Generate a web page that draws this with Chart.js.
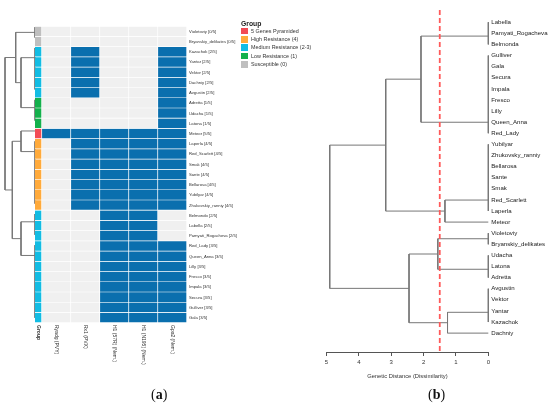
<!DOCTYPE html>
<html>
<head>
<meta charset="utf-8">
<script src="https://cdn.jsdelivr.net/npm/chart.js@4"></script>
<style>
  body { margin: 0; background: #fff; width: 550px; height: 408px; position: relative; overflow: hidden;
         font-family: "Liberation Sans", Arial, sans-serif; }
  canvas { position: absolute; }
  .lg { position: absolute; font-size: 5.4px; color: #333; white-space: nowrap; line-height: 7px; }
  .sw { position: absolute; width: 6.7px; height: 6.7px; }
  .cap { position: absolute; font-family: "Liberation Serif", "DejaVu Serif", serif; font-size: 14px; color: #111; }
</style>
</head>
<body>
<canvas id="leftTree" width="36" height="301" style="left:0;top:22px"></canvas>
<canvas id="heat" width="222" height="361" style="left:35px;top:22px"></canvas>
<canvas id="rightTree" width="230" height="408" style="left:320px;top:0"></canvas>
<div id="legend"></div>
<div class="cap" style="left:151px;top:387px">(<b>a</b>)</div>
<div class="cap" style="left:428px;top:387px">(<b>b</b>)</div>
<script>
// ─── DATA ─────────────────────────────────────────────────────────────────────

const rowNames = [
  'Violetoviy', 'Bryanskiy_delikates', 'Kazachok', 'Yantar', 'Vektor', 'Dachniy', 'Avgustin',
  'Adretta', 'Udacha', 'Latona', 'Meteor', 'Laperla', 'Red_Scarlett', 'Smak', 'Sante',
  'Bellarosa', 'Yubilyar', 'Zhukovskiy_ranniy', 'Belmondo', 'Labella', 'Pamyati_Rogacheva',
  'Red_Lady', 'Queen_Anna', 'Lilly', 'Fresco', 'Impala', 'Secura', 'Gulliver', 'Gala'
];
const markerLabels = ['Ryadg (PVY)', 'Rx1 (PVX)', 'H1 (57R) (Nem.)', 'H1 (N195) (Nem.)', 'Gpa2 (Nem.)'];

const ryadg = [0,0,0,0,0,0,0,0,0,0,1,0,0,0,0,0,0,0,0,0,0,0,0,0,0,0,0,0,0];
const rx1   = [0,0,1,1,1,1,1,0,0,0,1,1,1,1,1,1,1,1,0,0,0,0,0,0,0,0,0,0,0];
const h1a   = [0,0,0,0,0,0,0,0,0,0,1,1,1,1,1,1,1,1,1,1,1,1,1,1,1,1,1,1,1];
const h1b   = [0,0,0,0,0,0,0,0,0,0,1,1,1,1,1,1,1,1,1,1,1,1,1,1,1,1,1,1,1];
const gpa2  = [0,0,1,1,1,1,1,1,1,1,1,1,1,1,1,1,1,1,0,0,0,1,1,1,1,1,1,1,1];

const groupNames  = ['5 Genes Pyramided', 'High Resistance (4)', 'Medium Resistance (2-3)', 'Low Resistance (1)', 'Susceptible (0)'];
const groupColors = ['#F24B55', '#FFAA3B', '#12BCE3', '#14B04C', '#BFBFBF'];

// row dendrogram of panel (a): [children, height]; numbers point at earlier merges
const leftMerges = [
  [['Violetoviy', 'Bryanskiy_delikates'], 0],
  [['Avgustin', 'Dachniy', 'Vektor', 'Yantar', 'Kazachok'], 0],
  [['Udacha', 'Latona', 'Adretta'], 0],
  [[1, 2], 1.4],
  [[0, 3], 1.93],
  [['Zhukovskiy_ranniy', 'Yubilyar', 'Bellarosa', 'Sante', 'Smak', 'Red_Scarlett', 'Laperla'], 0],
  [['Meteor', 5], 1.4],
  [['Pamyati_Rogacheva', 'Labella', 'Belmondo'], 0],
  [['Gala', 'Gulliver', 'Secura', 'Impala', 'Fresco', 'Lilly', 'Queen_Anna', 'Red_Lady'], 0],
  [[7, 8], 1.4],
  [[6, 9], 2.27],
  [[4, 10], 3.0],
];

// dendrogram of panel (b)
const rightLeaves = [
  'Labella', 'Pamyati_Rogacheva', 'Belmonda', 'Gulliver', 'Gala', 'Secura', 'Impala', 'Fresco',
  'Lilly', 'Queen_Anna', 'Red_Lady', 'Yubilyar', 'Zhukovsky_ranniy', 'Bellarosa', 'Sante', 'Smak',
  'Red_Scarlett', 'Laperla', 'Meteor', 'Violetoviy', 'Bryanskiy_delikates', 'Udacha', 'Latona',
  'Adretta', 'Avgustin', 'Vektor', 'Yantar', 'Kazachok', 'Dachniy'
];
const rightMerges = [
  [['Labella', 'Pamyati_Rogacheva', 'Belmonda'], 0],
  [['Gulliver', 'Gala', 'Secura', 'Impala', 'Fresco', 'Lilly', 'Queen_Anna', 'Red_Lady'], 0],
  [[0, 1], 2.08],
  [['Yubilyar', 'Zhukovsky_ranniy', 'Bellarosa', 'Sante', 'Smak', 'Red_Scarlett', 'Laperla'], 0],
  [[3, 'Meteor'], 1.34],
  [[2, 4], 3.17],
  [['Violetoviy', 'Bryanskiy_delikates'], 0],
  [['Udacha', 'Latona', 'Adretta'], 0],
  [[6, 7], 1.56],
  [['Avgustin', 'Vektor', 'Yantar', 'Kazachok'], 0],
  [[9, 'Dachniy'], 1.26],
  [[8, 10], 2.45],
  [[5, 11], 4.9],
];
const cutHeight = 1.5;
const distTicks = [0, 1, 2, 3, 4, 5];

// ─── HELPERS ──────────────────────────────────────────────────────────────────

const FONT = '"Liberation Sans", Arial, sans-serif';
Chart.defaults.font.family = FONT;
Chart.defaults.animation = false;

const TREE_COLOR = '#777777';
const BLUE  = '#0A6FAE';
const EMPTY = '#F0F0F0';
const groupWidth = 0.24;

const markerSeries = [ryadg, rx1, h1a, h1b, gpa2];
const counts = rowNames.map((_, i) => markerSeries.reduce((s, a) => s + a[i], 0));

function groupOf(n) {
  if (n === 5) return 0;
  if (n === 4) return 1;
  if (n >= 2) return 2;
  if (n === 1) return 3;
  return 4;
}

// turn merge list into line segments (x = height, y = leaf index)
function treeSegments(leaves, merges) {
  const nodes = [];
  const segs = [];
  const pos = c => typeof c === 'string' ? { y: leaves.indexOf(c), h: 0 } : nodes[c];
  for (const [kids, h] of merges) {
    const ps = kids.map(pos);
    let y = ps[0].y;
    for (let i = 1; i < ps.length; i++) y = (y + ps[i].y) / 2;
    const ys = ps.map(p => p.y);
    segs.push([{ x: h, y: Math.min(...ys) }, { x: h, y: Math.max(...ys) }]);
    for (const p of ps) {
      if (p.h !== h) segs.push([{ x: p.h, y: p.y }, { x: h, y: p.y }]);
    }
    nodes.push({ y, h });
  }
  return segs;
}

function segDatasets(segs) {
  return segs.map(s => ({
    data: s, showLine: true, borderColor: TREE_COLOR, borderWidth: 1,
    pointRadius: 0, clip: false,
  }));
}

const quiet = { legend: { display: false }, tooltip: { enabled: false } };

// ─── PANEL (a): ROW DENDROGRAM ────────────────────────────────────────────────

new Chart(document.getElementById('leftTree'), {
  type: 'scatter',
  data: { datasets: segDatasets(treeSegments(rowNames, leftMerges)) },
  options: {
    responsive: false,
    layout: { padding: { right: 1 } },
    plugins: quiet,
    scales: {
      x: { type: 'linear', reverse: true, min: 0, max: 3.5, display: false },
      y: { type: 'linear', reverse: true, min: -0.5, max: 28.5, display: false },
    }
  }
});

// ─── PANEL (a): HEATMAP ───────────────────────────────────────────────────────

const colLabelPlugin = {
  id: 'colLabels',
  afterDraw(chart) {
    const { ctx, chartArea } = chart;
    const xs = chart.scales.x;
    ctx.save();
    ctx.fillStyle = '#333';
    ctx.textBaseline = 'middle';
    ctx.textAlign = 'left';
    ['Group', ...markerLabels].forEach((t, i) => {
      const v = i === 0 ? groupWidth / 2 : groupWidth + i - 0.5;
      ctx.font = (i === 0 ? 'bold ' : '') + '5px ' + FONT;
      ctx.save();
      ctx.translate(xs.getPixelForValue(v), chartArea.bottom + 2);
      ctx.rotate(Math.PI / 2);
      ctx.fillText(t, 0, 0);
      ctx.restore();
    });
    ctx.restore();
  }
};

const cellStyle = {
  borderColor: '#ffffff',
  borderWidth: { right: 1, bottom: 1, top: 0, left: 0 },
  borderSkipped: false,
  barPercentage: 1,
  categoryPercentage: 1,
};

new Chart(document.getElementById('heat'), {
  type: 'bar',
  data: {
    labels: rowNames.map((n, i) => `${n} [${counts[i]}/5]`),
    datasets: [
      { ...cellStyle, data: rowNames.map(() => groupWidth), backgroundColor: counts.map(c => groupColors[groupOf(c)]) },
      ...markerSeries.map(s => ({ ...cellStyle, data: s.map(() => 1), backgroundColor: s.map(v => v ? BLUE : EMPTY) })),
    ]
  },
  options: {
    indexAxis: 'y',
    responsive: false,
    layout: { padding: { bottom: 60 } },
    plugins: quiet,
    scales: {
      x: { stacked: true, min: 0, max: 5 + groupWidth, display: false },
      y: {
        stacked: true, position: 'right',
        grid: { display: false, drawTicks: false }, border: { display: false },
        ticks: { padding: 2, autoSkip: false, color: '#333', font: { size: 4.2 } },
        afterFit: s => { s.width = 70; }
      }
    }
  },
  plugins: [colLabelPlugin]
});

// legend
const legendEl = document.getElementById('legend');
legendEl.innerHTML =
  `<div class="lg" style="left:241px;top:19.5px;font-weight:bold;font-size:6.8px;color:#222">Group</div>` +
  groupNames.map((g, i) => `
    <div class="sw" style="left:241px;top:${27.7 + i * 8.3}px;background:${groupColors[i]}"></div>
    <div class="lg" style="left:251px;top:${27.6 + i * 8.3}px">${g}</div>`).join('');

// ─── PANEL (b): DISTANCE DENDROGRAM ───────────────────────────────────────────

new Chart(document.getElementById('rightTree'), {
  type: 'scatter',
  data: {
    datasets: [
      {
        data: [{ x: cutHeight, y: -1.1 }, { x: cutHeight, y: 29.7 }],
        showLine: true, borderColor: '#FF5A5A', borderWidth: 1.8, borderDash: [5, 3],
        pointRadius: 0, clip: false,
      },
      ...segDatasets(treeSegments(rightLeaves, rightMerges)),
    ]
  },
  options: {
    responsive: false,
    layout: { padding: { left: 6.5, top: 10 } },
    plugins: quiet,
    scales: {
      x: {
        type: 'linear', reverse: true, min: 0, max: 5,
        afterBuildTicks: s => { s.ticks = distTicks.map(v => ({ value: v })); },
        ticks: { color: '#333', padding: 3, font: { size: 6 } },
        grid: { drawOnChartArea: false, drawTicks: true, tickLength: 4, color: '#555' },
        border: { display: true, color: '#555' },
        title: {
          display: true, text: 'Genetic Distance (Dissimilarity)', color: '#333',
          font: { size: 5.8 }, padding: { top: 0, bottom: 28.5 }
        },
        afterFit: s => { s.height = 56; }
      },
      y: {
        type: 'linear', position: 'right', reverse: true, min: -1.1, max: 29.7,
        afterBuildTicks: s => { s.ticks = rightLeaves.map((_, i) => ({ value: i })); },
        ticks: { callback: v => rightLeaves[v], autoSkip: false, color: '#222', padding: 3, font: { size: 6.1 } },
        grid: { display: false, drawTicks: false },
        border: { display: false },
        afterFit: s => { s.width = 61.7; }
      }
    }
  }
});
</script>
</body>
</html>
